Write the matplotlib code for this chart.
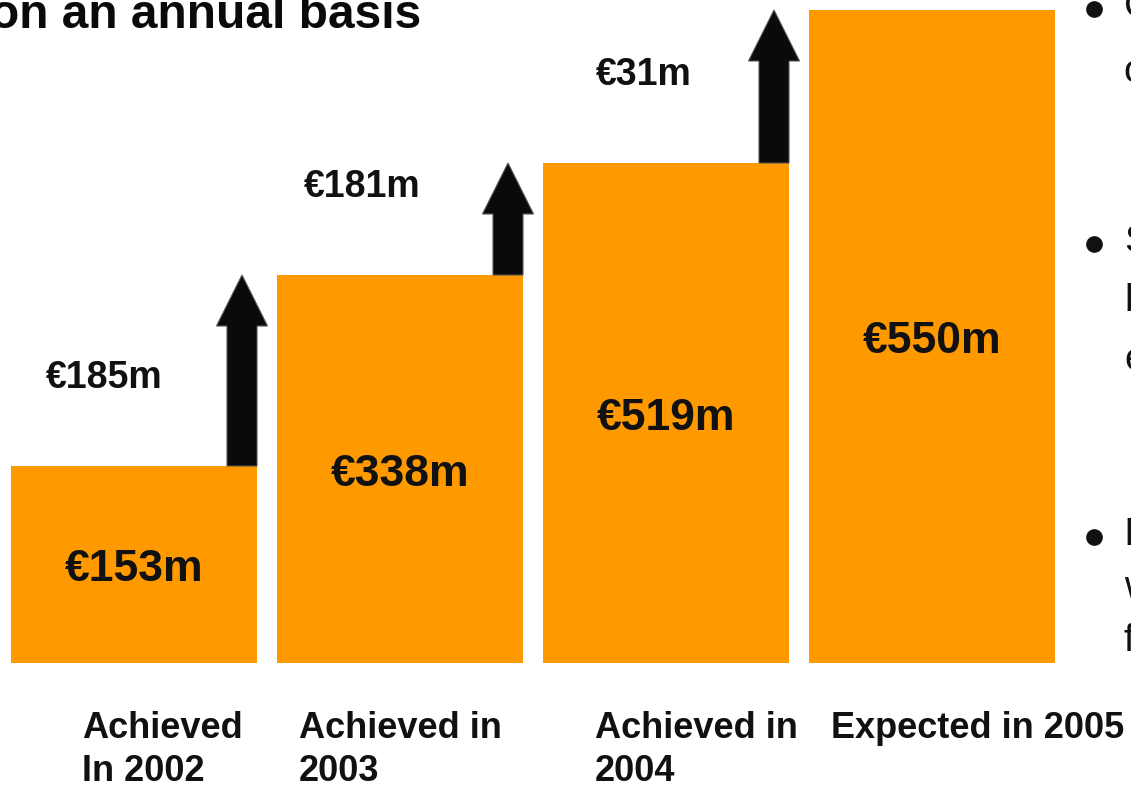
import numpy as np
import matplotlib.pyplot as plt

###Data
categories = ['Achieved\nIn 2002', 'Achieved in\n2003', 'Achieved in\n2004', 'Expected in 2005']
savings = [153, 338, 519, 550]            #EUR m, cumulative annual savings
increments = [185, 181, 31]               #EUR m, step to next year
bar_level = [197, 388, 500, 653]          #drawn bar heights (slide is not to scale)

bullets = [['Cost savings', 'on track'],
           ['Savings', 'beyond', 'expectations'],
           ['In line', 'with', 'full year plan']]

###Style
orange = '#FF9900'
font = 'Liberation Sans'

fig = plt.figure(figsize=(11.31, 7.86), dpi=100)
ax = fig.add_axes([0, 0, 1, 1])
ax.set_xlim(0, 1131)
ax.set_ylim(0, 786)
ax.axis('off')

base = 123
width = 246
x = np.arange(len(savings))*266 + 134
tops = base + np.array(bar_level)

#Bars
ax.bar(x, bar_level, width=width, bottom=base, color=orange, zorder=1)
for i in range(len(savings)):
    ax.text(x[i], base + bar_level[i]/2 - 5, '\u20ac' + str(savings[i]) + 'm', ha='center', va='center',
            fontsize=32, fontweight='bold', family=font, color='#111111')

#Arrows from one bar top to the next
lab_dx = [-30, -38, -22]
for i in range(len(increments)):
    ax_x = x[i] + width/2 - 15
    ax.arrow(ax_x, tops[i], 0, tops[i+1] - tops[i], width=30, head_width=51, head_length=51,
             length_includes_head=True, fc='#0a0a0a', ec='#555555', lw=0.8, zorder=2)
    ax.text(x[i] + lab_dx[i], tops[i] + 88, '\u20ac' + str(increments[i]) + 'm', ha='center', va='center',
            fontsize=27, fontweight='bold', family=font, color='#111111')

#Category labels
cat_x = [82, 299, 595, 831]
for i in range(len(categories)):
    ax.text(cat_x[i], 75, categories[i], ha='left', va='top', fontsize=26, fontweight='bold',
            family=font, color='#111111', linespacing=1.3)

#Title (cut at the left edge)
ax.text(421, 758, 'on an annual basis', ha='right', va='baseline', fontsize=34.5,
        fontweight='bold', family=font, color='#0a0a0a')

#Bullet points (cut at the right edge)
bullet_y = [[769, 704], [534, 475, 416], [241, 188, 135]]
for b in range(len(bullets)):
    ax.plot(1094, bullet_y[b][0] + 8, 'o', ms=11, color='#111111')
    for j in range(len(bullets[b])):
        ax.text(1124, bullet_y[b][j], bullets[b][j], ha='left', va='baseline', fontsize=28,
                family=font, color='#111111')

fig.savefig('out.png', dpi=100)
